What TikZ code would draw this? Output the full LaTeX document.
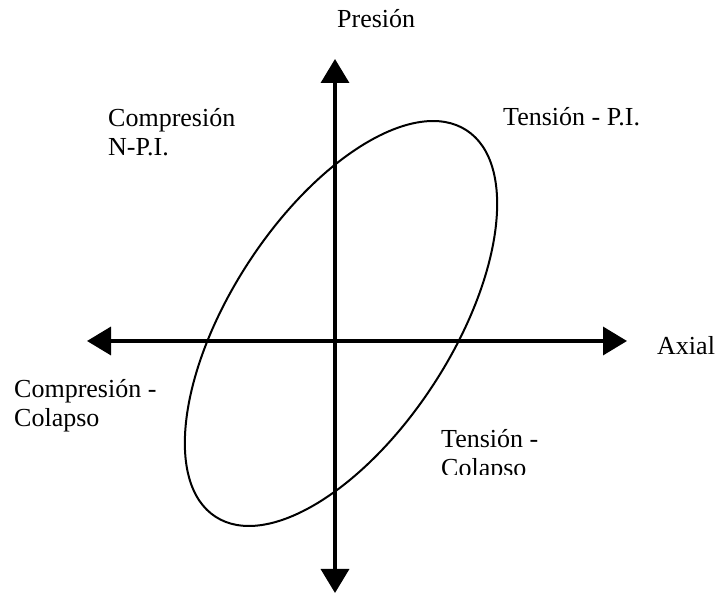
\documentclass[tikz,border=0pt]{standalone}
\usepackage{fontspec}
\setmainfont{Liberation Serif}
\usetikzlibrary{arrows.meta}
\tikzset{
  axarr/.style={line width=3.5pt,
                {Triangle[length=24pt,width=28pt]}-{Triangle[length=24pt,width=28pt]}},
  curve/.style={line width=2pt},
  lbl/.style={font=\fontsize{26}{29}\selectfont, inner sep=0pt,
              align=left, anchor=base west}
}
\begin{document}
\begin{tikzpicture}[x=1pt,y=1pt]
\useasboundingbox (0,0) rectangle (715,594);
% axes
\coordinate (ptop) at (335,535);
\coordinate (pbot) at (335,1);
\coordinate (aleft) at (87,253);
\coordinate (aright) at (627,253);
\draw[axarr] (pbot) -- (ptop);
\draw[axarr] (aleft) -- (aright);
% failure envelope
\draw[curve, rotate around={57:(341,270.5)}] (341,270.5)
  ellipse [x radius=230.4, y radius=110.8];
% labels (base = last line)
\node[lbl] (presion) at (337,566) {Presión};
\node[lbl] (axial) at (657,239) {Axial};
\node[lbl] (cnpi) at (108,438) {Compresión\\N-P.I.};
\node[lbl] (tpi) at (503,468) {Tensión - P.I.};
\node[lbl] (ccol) at (14,167) {Compresión -\\Colapso};
\begin{scope}
  \clip (430,119) rectangle (620,200);
  \node[lbl] (tcol) at (441,117) {Tensión -\\Colapso};
\end{scope}
\end{tikzpicture}
\end{document}
